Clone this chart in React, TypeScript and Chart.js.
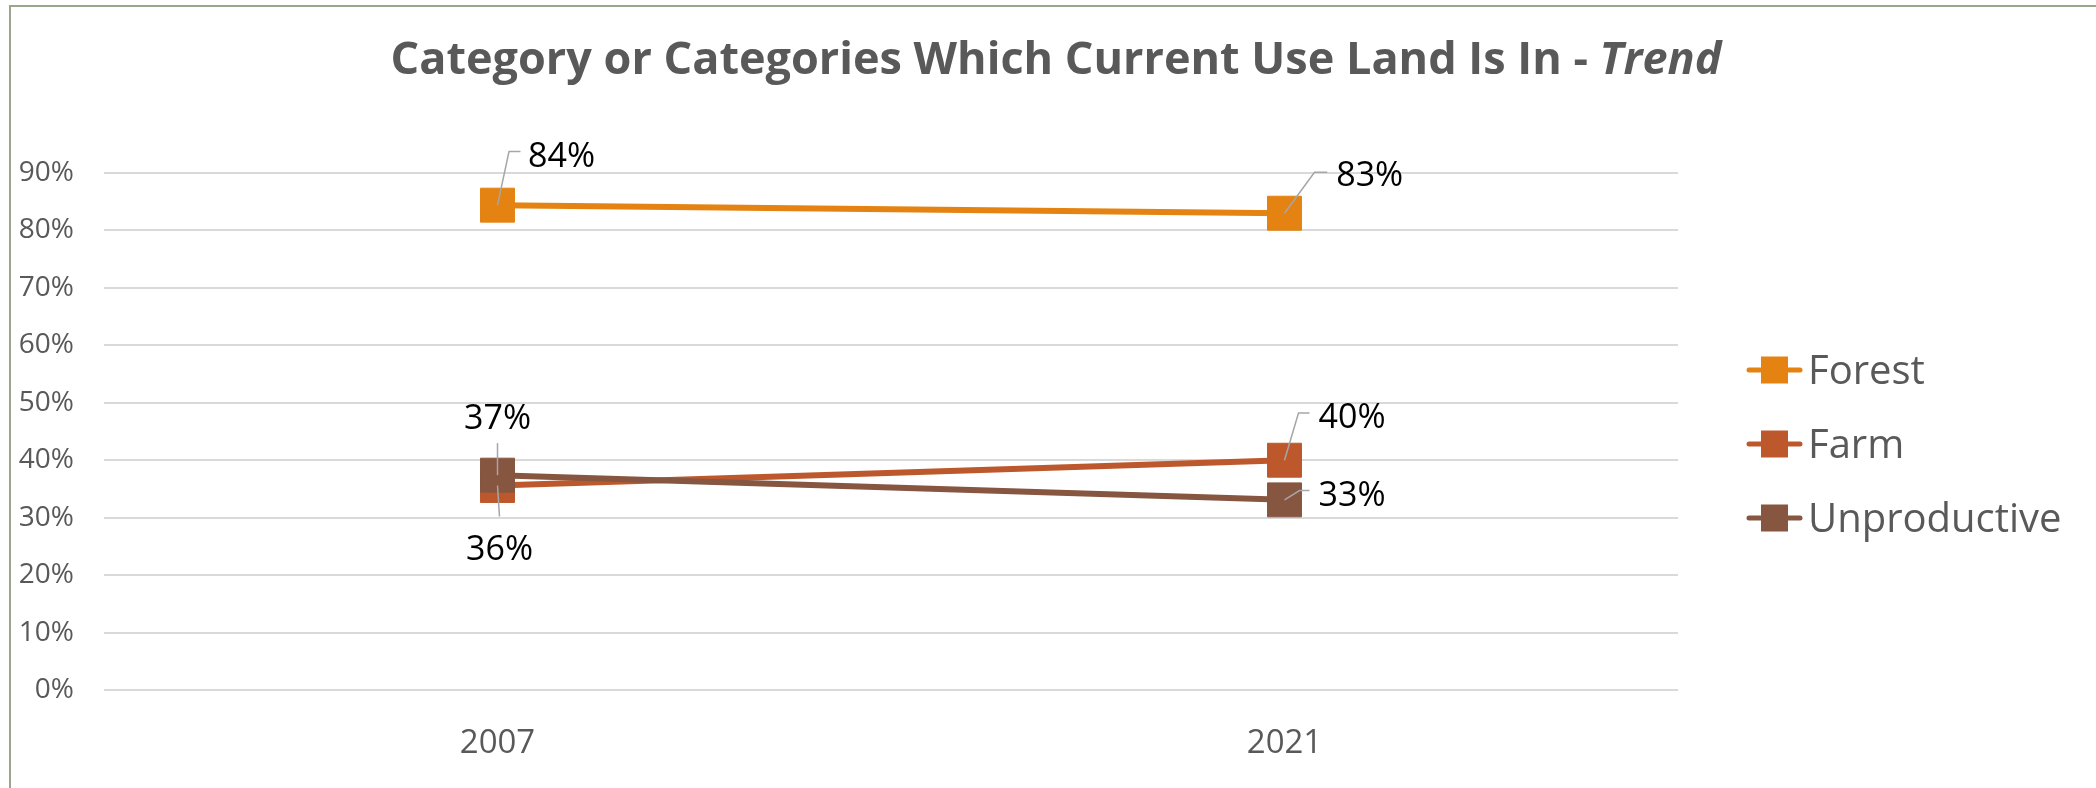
import React, { useEffect, useRef } from 'react';
import { Chart, registerables } from 'chart.js';

Chart.register(...registerables);

const categories = ['2007', '2021'];
const forestValues = [0.844, 0.83];
const farmValues = [0.356, 0.40];
const unproductiveValues = [0.374, 0.331];
const seriesNames = ['Forest', 'Farm', 'Unproductive'];
const seriesColors = ['#E48312', '#BD582C', '#865640'];
const titleMain = 'Category or Categories Which Current Use Land Is In - ';
const titleItalic = 'Trend';

const FONT = '"Open Sans", "Noto Sans", sans-serif';
const GREY_TEXT = '#595959';

// label layout (offsets relative to each point, in px)
type LabelSpec = { leader: number[][]; tx: number; ty: number; align: CanvasTextAlign };
const labelLayout: LabelSpec[][] = [
  [
    { leader: [[0, 0], [11.5, -53.6], [23, -53.6]], tx: 30.5, ty: -50, align: 'left' },
    { leader: [[0, 0], [30, -41], [42.7, -41]], tx: 51.7, ty: -39.5, align: 'left' },
  ],
  [
    { leader: [[0, 0], [2, 31]], tx: 2, ty: 62, align: 'center' },
    { leader: [[0, 0], [14, -47.3], [25, -47.3]], tx: 34, ty: -44, align: 'left' },
  ],
  [
    { leader: [[0, 0], [0, -32]], tx: 0, ty: -58, align: 'center' },
    { leader: [[0, 0], [15, -9.3], [25, -9.3]], tx: 34, ty: -6, align: 'left' },
  ],
];

const framePlugin = {
  id: 'frame',
  beforeDraw(chart: any) {
    const ctx = chart.ctx;
    ctx.save();
    ctx.fillStyle = '#ffffff';
    ctx.fillRect(0, 0, chart.width, chart.height);
    ctx.strokeStyle = '#9CA68C';
    ctx.lineWidth = 2;
    ctx.beginPath();
    ctx.moveTo(10, chart.height);
    ctx.lineTo(10, 6);
    ctx.lineTo(chart.width, 6);
    ctx.stroke();
    ctx.restore();
  },
};

const titlePlugin = {
  id: 'customTitle',
  afterDraw(chart: any) {
    const ctx = chart.ctx;
    ctx.save();
    const size = 45;
    const f1 = `bold ${size}px ${FONT}`;
    const f2 = `italic bold ${size}px ${FONT}`;
    ctx.font = f1;
    const w1 = ctx.measureText(titleMain).width;
    ctx.font = f2;
    const w2 = ctx.measureText(titleItalic).width;
    const cx = 1056;
    const x0 = cx - (w1 + w2) / 2;
    ctx.fillStyle = GREY_TEXT;
    ctx.textBaseline = 'alphabetic';
    ctx.textAlign = 'left';
    ctx.font = f1;
    ctx.fillText(titleMain, x0, 74);
    ctx.font = f2;
    ctx.fillText(titleItalic, x0 + w1, 74);
    ctx.restore();
  },
};

const labelPlugin = {
  id: 'dataLabels',
  afterDatasetsDraw(chart: any) {
    const ctx = chart.ctx;
    ctx.save();
    const size = 34;
    ctx.font = `${size}px ${FONT}`;
    ctx.textBaseline = 'alphabetic';
    chart.data.datasets.forEach((ds: any, di: number) => {
      const meta = chart.getDatasetMeta(di);
      meta.data.forEach((pt: any, i: number) => {
        const spec = labelLayout[di][i];
        const px = pt.x;
        const py = pt.y;
        ctx.strokeStyle = '#A6A6A6';
        ctx.lineWidth = 1.5;
        ctx.beginPath();
        spec.leader.forEach((p, k) => {
          if (k === 0) ctx.moveTo(px + p[0], py + p[1]);
          else ctx.lineTo(px + p[0], py + p[1]);
        });
        ctx.stroke();
        const v = ds.data[i];
        const txt = Math.round(v * 100) + '%';
        ctx.fillStyle = '#000000';
        ctx.textAlign = spec.align;
        ctx.fillText(txt, px + spec.tx, py + spec.ty + size * 0.357);
      });
    });
    ctx.restore();
  },
};

const legendPlugin = {
  id: 'customLegend',
  afterDraw(chart: any) {
    const ctx = chart.ctx;
    ctx.save();
    const size = 40;
    ctx.font = `${size}px ${FONT}`;
    ctx.textBaseline = 'alphabetic';
    ctx.textAlign = 'left';
    seriesNames.forEach((name, i) => {
      const cy = 370 + i * 74;
      ctx.strokeStyle = seriesColors[i];
      ctx.lineWidth = 5;
      ctx.lineCap = 'round';
      ctx.beginPath();
      ctx.moveTo(1749, cy);
      ctx.lineTo(1800, cy);
      ctx.stroke();
      ctx.fillStyle = seriesColors[i];
      ctx.fillRect(1761, cy - 13.5, 27, 27);
      ctx.fillStyle = GREY_TEXT;
      ctx.fillText(name, 1808, cy + size * 0.357);
    });
    ctx.restore();
  },
};

export default function App() {
  const canvasRef = useRef<HTMLCanvasElement | null>(null);

  useEffect(() => {
    if (!canvasRef.current) return;
    const allValues = [forestValues, farmValues, unproductiveValues];
    const chart = new Chart(canvasRef.current, {
      type: 'line',
      data: {
        labels: categories,
        datasets: allValues.map((vals, i) => ({
          label: seriesNames[i],
          data: vals,
          borderColor: seriesColors[i],
          backgroundColor: seriesColors[i],
          borderWidth: 6,
          pointStyle: 'rect',
          pointRadius: 24,
          pointBorderWidth: 1,
          pointBorderColor: seriesColors[i],
          pointBackgroundColor: seriesColors[i],
          fill: false,
          tension: 0,
          order: 2 - i,
        })),
      },
      options: {
        responsive: false,
        animation: false,
        events: [],
        layout: { padding: { top: 173, right: 418, left: 0, bottom: 0 } },
        plugins: {
          legend: { display: false },
          title: { display: false },
          tooltip: { enabled: false },
        },
        scales: {
          x: {
            offset: true,
            grid: { display: false, drawTicks: false },
            border: { display: false },
            ticks: {
              color: GREY_TEXT,
              font: { family: FONT, size: 33 },
              padding: 34,
            },
            afterFit: (s: any) => {
              s.height = 98;
            },
          },
          y: {
            min: 0,
            max: 0.9,
            ticks: {
              stepSize: 0.1,
              color: GREY_TEXT,
              font: { family: FONT, size: 28 },
              padding: 30,
              callback: (v: any) => Math.round(Number(v) * 100) + '%',
            },
            grid: { color: '#D9D9D9', lineWidth: 2, drawTicks: false },
            border: { display: false },
            afterFit: (s: any) => {
              s.width = 104;
            },
          },
        },
      },
      plugins: [framePlugin, titlePlugin, labelPlugin, legendPlugin],
    });
    return () => chart.destroy();
  }, []);

  return (
    <div style={{ position: 'fixed', left: 0, top: 0, width: 2096, height: 788, background: '#fff' }}>
      <canvas ref={canvasRef} width={2096} height={788} style={{ display: 'block' }} />
    </div>
  );
}
